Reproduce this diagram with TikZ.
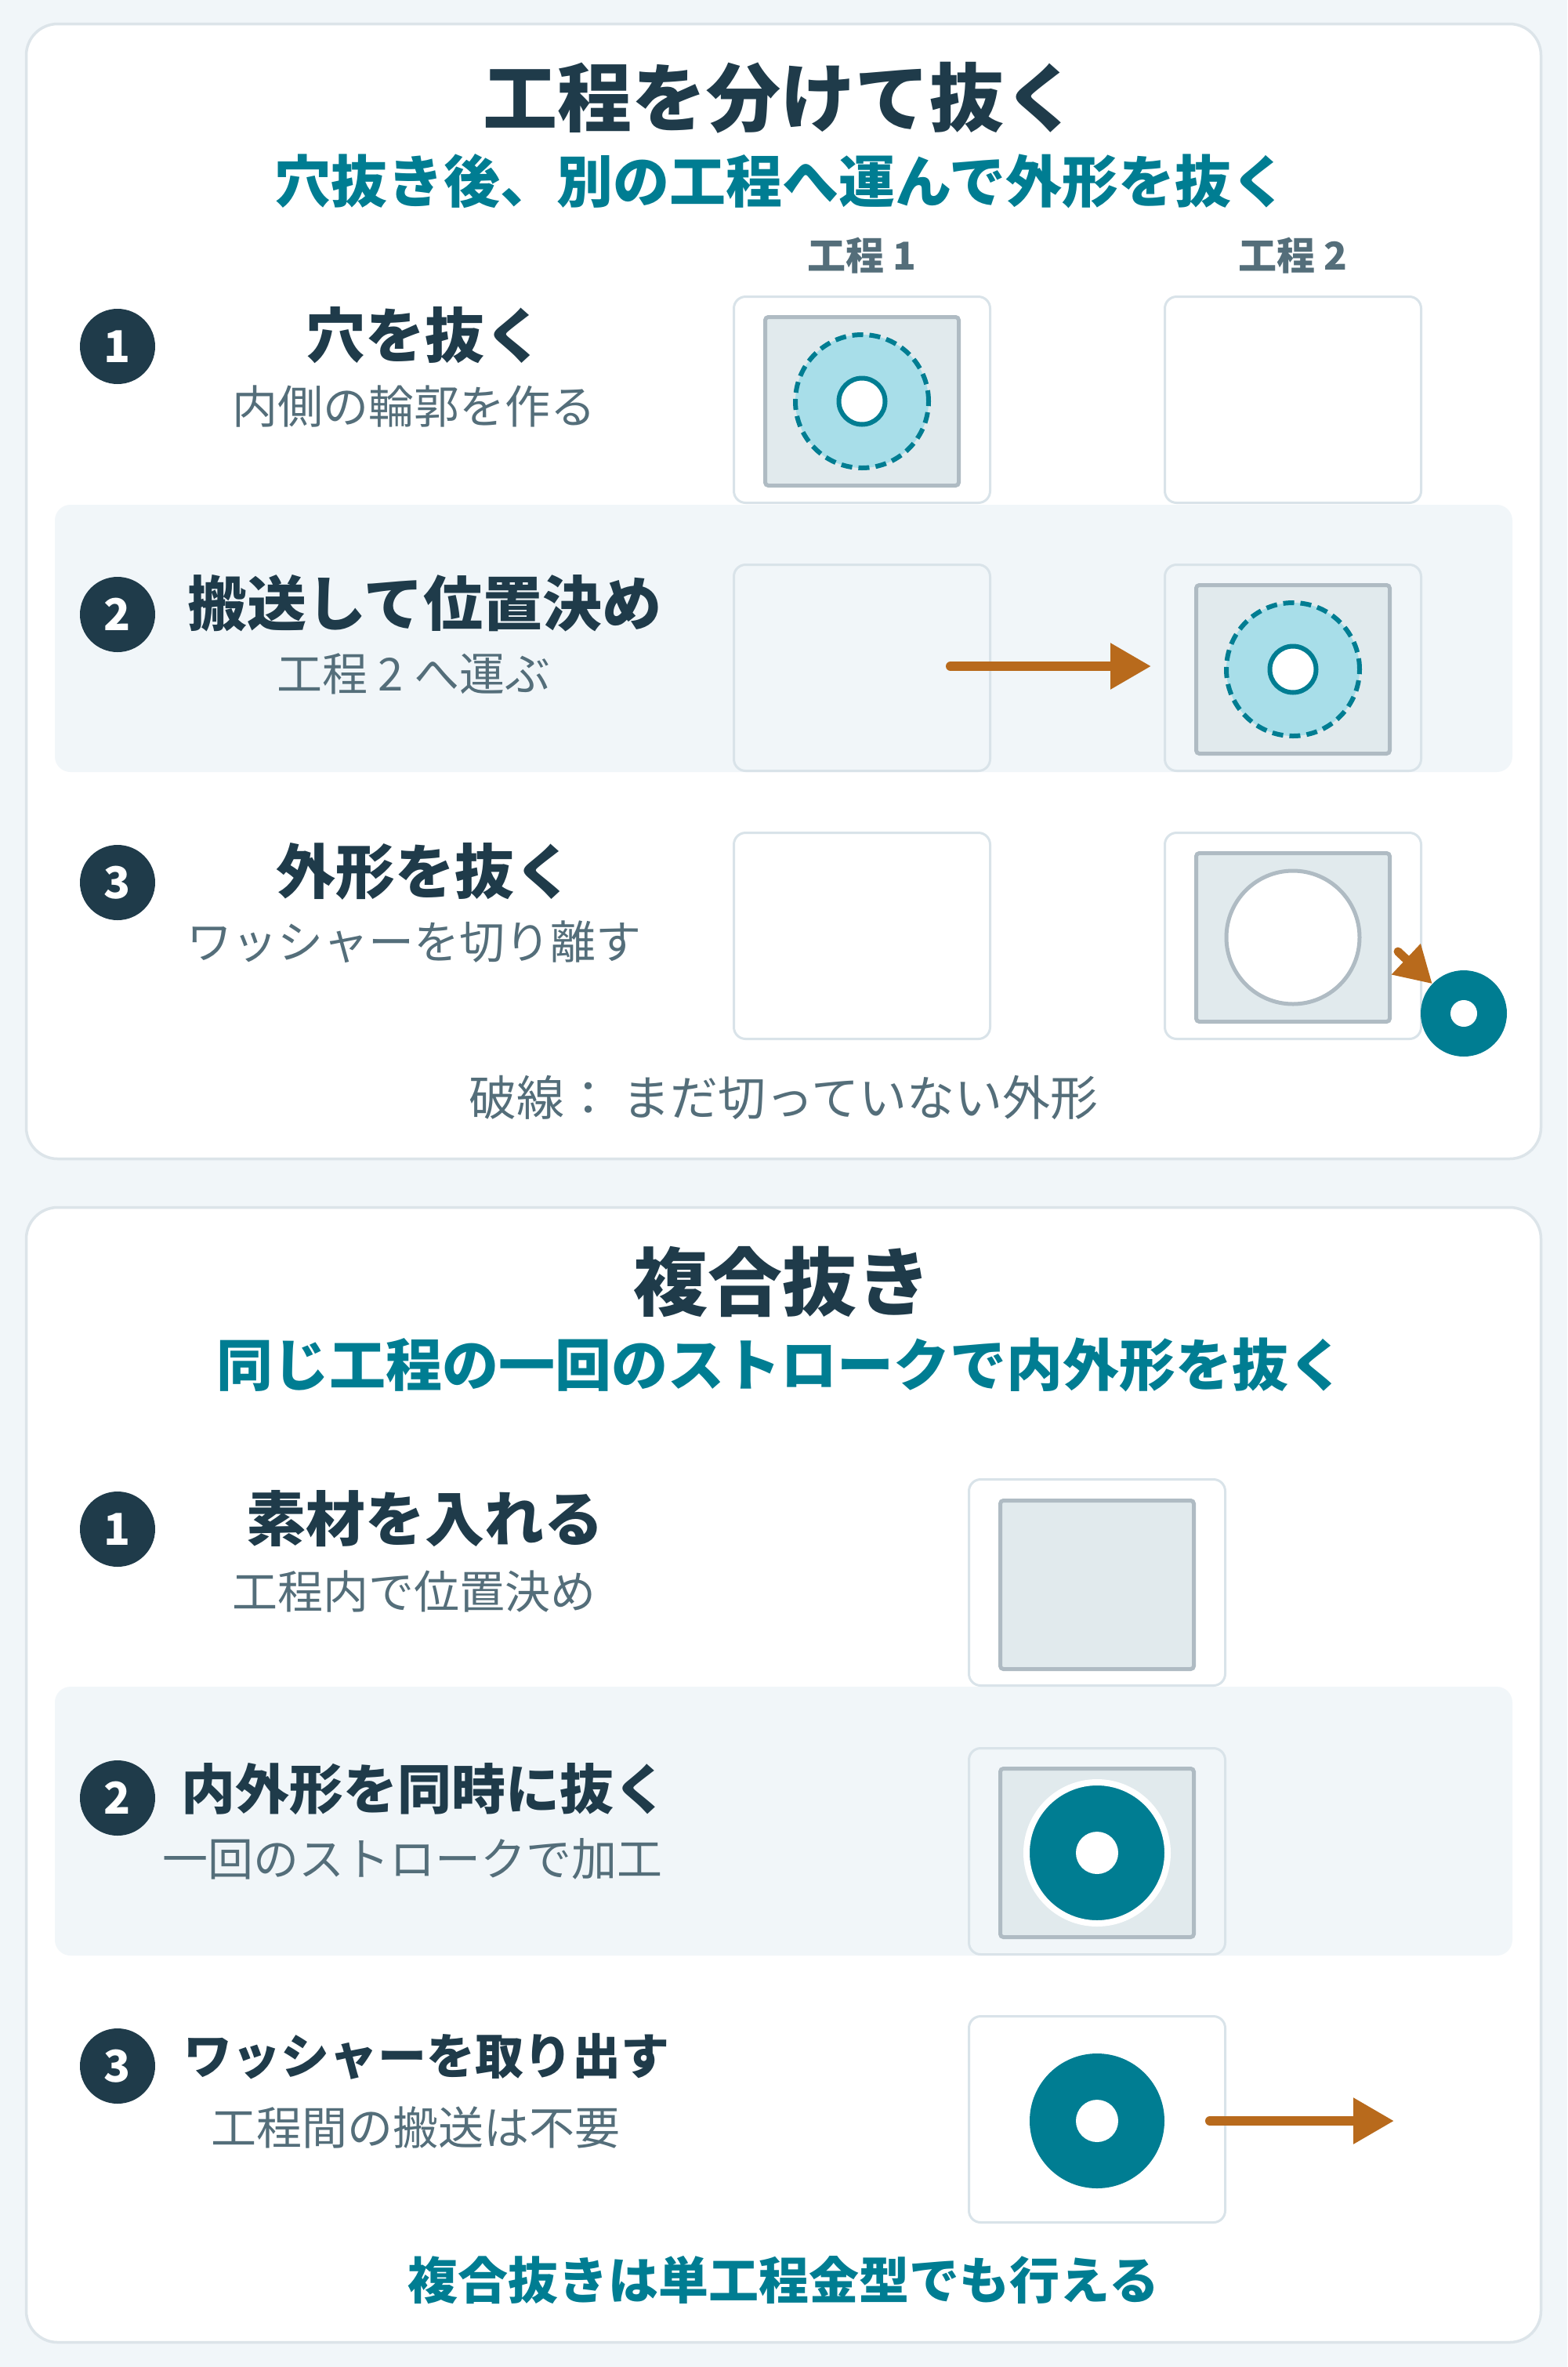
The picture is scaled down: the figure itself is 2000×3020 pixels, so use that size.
\documentclass[tikz,border=0pt]{standalone}
\usepackage{fontspec}
\setmainfont{Noto Sans CJK JP}
\usetikzlibrary{arrows.meta}
\definecolor{pagebg}{HTML}{F1F6F9}
\definecolor{panelline}{HTML}{DCE4E9}
\definecolor{navy}{HTML}{1F3B4A}
\definecolor{graytext}{HTML}{546E7A}
\definecolor{mteal}{HTML}{007D92}
\definecolor{morange}{HTML}{B86A1C}
\definecolor{platefill}{HTML}{E1EAED}
\definecolor{plateline}{HTML}{AFBBC3}
\definecolor{lightblue}{HTML}{A8DEE9}
\definecolor{boxline}{HTML}{D9E3E9}
\definecolor{bandfill}{HTML}{F1F6F9}
\tikzset{
  panel/.style={draw=panelline, line width=3.5pt, fill=white, rounded corners=40pt},
  band/.style={fill=bandfill, rounded corners=20pt},
  stagebox/.style={rectangle, draw=boxline, line width=3pt, rounded corners=15pt,
    minimum width=327pt, minimum height=263pt, inner sep=0pt, fill=white},
  bandbox/.style={stagebox, fill=bandfill},
  plate/.style={rectangle, draw=plateline, fill=platefill, line width=5pt, rounded corners=4pt,
    minimum width=247pt, minimum height=215pt, inner sep=0pt},
  badge/.style={circle, fill=navy, minimum size=96pt, inner sep=0pt, text=white,
    font=\bfseries\fontsize{56}{60}\selectfont},
  sectitle/.style={text=navy, inner sep=0pt, font=\bfseries\fontsize{95}{100}\selectfont},
  secsub/.style={text=mteal, inner sep=0pt, font=\bfseries\fontsize{72}{78}\selectfont},
  collabel/.style={text=graytext, inner sep=0pt, font=\bfseries\fontsize{49}{54}\selectfont},
  rowtitle/.style={text=navy, inner sep=0pt, font=\bfseries\fontsize{76}{82}\selectfont},
  rowsub/.style={text=graytext, inner sep=0pt, font=\fontsize{58}{63}\selectfont},
  dashcirc/.style={circle, draw=mteal, fill=lightblue, line width=6pt,
    dash pattern=on 14pt off 8pt, minimum size=170pt, inner sep=0pt},
  hole/.style={circle, draw=mteal, fill=white, line width=6pt, minimum size=59pt, inner sep=0pt},
  opencirc/.style={circle, draw=plateline, fill=white, line width=5pt, minimum size=170pt, inner sep=0pt},
  washer/.style={circle, fill=mteal, inner sep=0pt},
  whitehole/.style={circle, fill=white, inner sep=0pt},
  arr/.style={draw=morange, line width=12pt, line cap=round, -{Triangle[length=52pt,width=56pt]}},
  arrsmall/.style={draw=morange, line width=11pt, line cap=round, -{Triangle[length=46pt,width=51pt]}},
}
\begin{document}
\begin{tikzpicture}[x=1pt,y=-1pt]
\fill[pagebg] (0,0) rectangle (2000,3020);
\useasboundingbox (0,0) rectangle (2000,3020);

% ===== Panel 1 =====
\draw[panel] (33.5,30.5) rectangle (1966.5,1478.5);
\fill[band] (70,644) rectangle (1930,985);

\node[sectitle] (t1) at (996,125) {工程を分けて抜く};
\node[secsub] (s1) at (997,231) {穴抜き後、別の工程へ運んで外形を抜く};
\node[collabel] (c1) at (1100,326) {工程 1};
\node[collabel] (c2) at (1650,326) {工程 2};

% row 1
\node[badge] (b11) at (150,442) {1};
\node[rowtitle] (r11t) at (542,428) {穴を抜く};
\node[rowsub] (r11s) at (528,519) {内側の輪郭を作る};
\node[stagebox] (x11) at (1100,510) {};
\node[stagebox] (x12) at (1650,510) {};
\node[plate] (p11) at (1100,512) {};
\node[dashcirc] (d11) at (1100,512) {};
\node[hole] (h11) at (1100,512) {};

% row 2
\node[badge] (b12) at (150,784) {2};
\node[rowtitle] (r12t) at (542,770) {搬送して位置決め};
\node[rowsub] (r12s) at (528,860) {工程 2 へ運ぶ};
\node[bandbox] (x21) at (1100,852) {};
\node[bandbox] (x22) at (1650,852) {};
\node[plate] (p22) at (1650,854) {};
\node[dashcirc] (d22) at (1650,854) {};
\node[hole] (h22) at (1650,854) {};
\coordinate (a1s) at (1213,850);
\coordinate (a1e) at (1469,850);
\draw[arr] (a1s) -- (a1e);

% row 3
\node[badge] (b13) at (150,1126) {3};
\node[rowtitle] (r13t) at (542,1112) {外形を抜く};
\node[rowsub] (r13s) at (528,1202) {ワッシャーを切り離す};
\node[stagebox] (x31) at (1100,1194) {};
\node[stagebox] (x32) at (1650,1194) {};
\node[plate] (p32) at (1650,1196) {};
\node[opencirc] (o32) at (1650,1196) {};
\node[washer, minimum size=110pt] (w1) at (1868,1293) {};
\node[whitehole, minimum size=34pt] (w1h) at (1868,1293) {};
\coordinate (a2s) at (1784,1214);
\draw[arrsmall] (a2s) -- (w1);

\node[rowsub, font=\fontsize{61}{66}\selectfont] (f1) at (1000,1400) {破線：\ まだ切っていない外形};

% ===== Panel 2 =====
\draw[panel] (33.5,1540.5) rectangle (1966.5,2988.5);
\fill[band] (70,2152) rectangle (1930,2495);

\node[sectitle] (t2) at (998,1635) {複合抜き};
\node[secsub] (s2) at (996,1741) {同じ工程の一回のストロークで内外形を抜く};

% row 1
\node[badge] (b21) at (150,1951) {1};
\node[rowtitle] (q1t) at (542,1938) {素材を入れる};
\node[rowsub] (q1s) at (528,2030) {工程内で位置決め};
\node[stagebox] (y1) at (1400,2019) {};
\node[plate] (yp1) at (1400,2022) {};

% row 2
\node[badge] (b22) at (150,2294) {2};
\node[rowtitle, font=\bfseries\fontsize{69}{75}\selectfont] (q2t) at (542,2283) {内外形を同時に抜く};
\node[rowsub] (q2s) at (526,2372) {一回のストロークで加工};
\node[bandbox] (y2) at (1400,2362) {};
\node[plate] (yp2) at (1400,2364) {};
\node[washer, draw=white, line width=8pt, minimum size=180pt] (w2) at (1400,2364) {};
\node[whitehole, minimum size=54pt] (w2h) at (1400,2364) {};

% row 3
\node[badge] (b23) at (150,2636) {3};
\node[rowtitle, font=\bfseries\fontsize{62}{68}\selectfont] (q3t) at (544,2624) {ワッシャーを取り出す};
\node[rowsub] (q3s) at (530,2715) {工程間の搬送は不要};
\node[stagebox] (y3) at (1400,2704) {};
\node[washer, minimum size=172pt] (w3) at (1400,2706) {};
\node[whitehole, minimum size=54pt] (w3h) at (1400,2706) {};
\coordinate (a3s) at (1544,2706);
\coordinate (a3e) at (1779,2706);
\draw[arr] (a3s) -- (a3e);

\node[secsub, font=\bfseries\fontsize{64}{70}\selectfont] (f2) at (1000,2909) {複合抜きは単工程金型でも行える};
\end{tikzpicture}
\end{document}
